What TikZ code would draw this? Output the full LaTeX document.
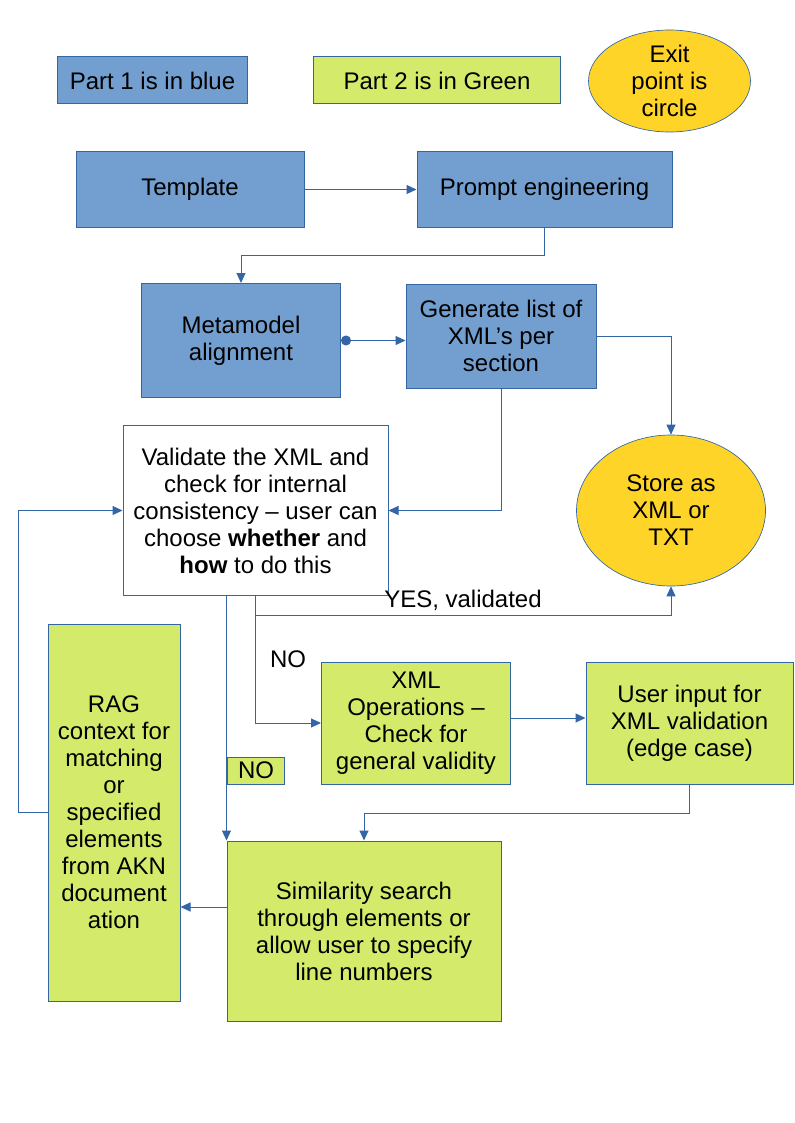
\documentclass[tikz,border=0pt]{standalone}
\usepackage{fontspec}
\setmainfont{Liberation Sans}
\usetikzlibrary{shapes.geometric,arrows.meta}

\definecolor{partblue}{HTML}{729FCF}
\definecolor{partgreen}{HTML}{D4EA6B}
\definecolor{exitgold}{HTML}{FFD428}
\definecolor{edgeblue}{HTML}{3465A4}

\tikzstyle{textfont} = [font=\fontsize{18}{20.25}\selectfont, align=center]
\tikzstyle{bluebox} = [rectangle, draw=edgeblue, line width=0.75pt, fill=partblue, textfont]
\tikzstyle{greenbox} = [rectangle, draw=edgeblue, line width=0.75pt, fill=partgreen, textfont]
\tikzstyle{whitebox} = [rectangle, draw=edgeblue, line width=0.75pt, fill=white, textfont]
\tikzstyle{exitpoint} = [ellipse, draw=edgeblue, line width=0.5pt, fill=exitgold, textfont, inner sep=0pt]
\tikzstyle{link} = [draw=edgeblue, line width=0.75pt, -{Triangle[length=7.5pt,width=6.75pt]}]

\begin{document}
\begin{tikzpicture}[x=0.75pt, y=-0.75pt]
	\useasboundingbox (0,0) rectangle (794,1123);

	% legend
	\node[bluebox, minimum width=142.5pt, minimum height=35.25pt] (part1) at (152.5,80.5) {Part 1 is in blue};
	\node[greenbox, minimum width=185.25pt, minimum height=35.25pt] (part2) at (437,80.5) {Part 2 is in Green};
	\node[exitpoint, minimum width=121.5pt, minimum height=76.5pt] (exit) at (669.5,81) {Exit\\point is\\circle};

	% part 1
	\node[bluebox, minimum width=171pt, minimum height=57pt] (template) at (190,189.5) {Template};
	\node[bluebox, minimum width=191.25pt, minimum height=57pt] (prompt) at (544.5,189.5) {Prompt engineering};
	\node[bluebox, minimum width=149.25pt, minimum height=85.5pt] (meta) at (241,340.5) {Metamodel\\alignment};
	\node[bluebox, minimum width=142.5pt, minimum height=78pt] (gen) at (501,336) {Generate list of\\XML’s per\\section};
	\node[whitebox, minimum width=198.75pt, minimum height=127.5pt] (valid) at (255.5,510.5) {Validate the XML and\\check for internal\\consistency – user can\\choose \textbf{whether} and\\\textbf{how} to do this};
	\node[exitpoint, minimum width=141.75pt, minimum height=113.25pt] (store) at (671,510.5) {Store as\\XML or\\TXT};

	% part 2
	\node[greenbox, minimum width=99pt, minimum height=282.75pt] (rag) at (114,812.5) {RAG\\context for\\matching\\or\\specified\\elements\\from AKN\\document\\ation};
	\node[greenbox, minimum width=141.75pt, minimum height=91.5pt] (xmlops) at (416,723) {XML\\Operations –\\Check for\\general validity};
	\node[greenbox, minimum width=155.25pt, minimum height=91.5pt] (user) at (689.5,723) {User input for\\XML validation\\(edge case)};
	\node[greenbox, minimum width=42.75pt, minimum height=20.25pt, inner sep=0pt] (nolabel) at (256,770.5) {NO};
	\node[greenbox, minimum width=205.5pt, minimum height=135pt] (sim) at (364,931) {Similarity search\\through elements or\\allow user to specify\\line numbers};

	\node[textfont] (yes) at (463,600) {YES, validated};
	\node[textfont] (no) at (288,659) {NO};

	\draw[link] (template) -- (prompt);
	\draw[link] (prompt.south) -- ++(0,27) -| (meta.north);
	\draw[link, {Circle[length=7.5pt]}-{Triangle[length=7.5pt,width=6.75pt]}] (meta.east) -- (meta.east -| gen.west);
	\draw[link] (gen.east) -| (store.north);
	\draw[link] (gen.south) |- (valid.east);
	\draw[link] (valid.south) -- ++(0,19) -| (store.south);
	\draw[link] (valid.south) |- (xmlops.west);
	\draw[link] (sim.north west |- valid.south) -- (sim.north west);
	\draw[link] ([yshift=3.75pt]xmlops.east) -- ([yshift=3.75pt]xmlops.east -| user.west);
	\draw[link] (user.south) -- ++(0,29) -| (sim.north);
	\draw[link] ([yshift=18pt]sim.west) -- ([yshift=18pt]sim.west -| rag.east);
	\draw[link] (rag.west) -- ++(-29,0) |- (valid.west);
\end{tikzpicture}
\end{document}
